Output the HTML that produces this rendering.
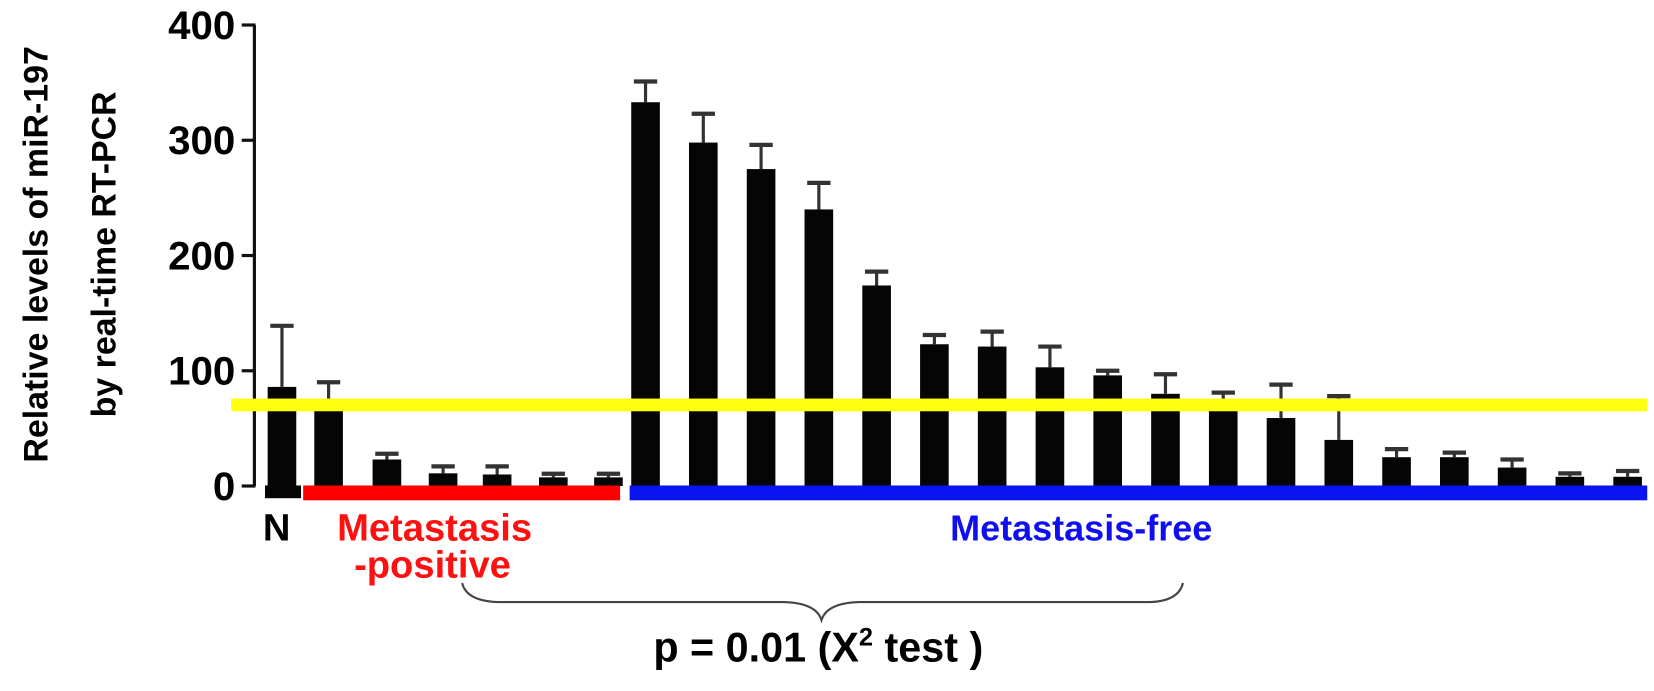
<!DOCTYPE html>
<html><head><meta charset="utf-8"><style>
body{margin:0;background:#fff}
svg{display:block;font-family:"Liberation Sans",Arial,sans-serif;font-weight:bold}
</style></head><body>
<svg id="chart" width="1654" height="691" viewBox="0 0 1654 691" xmlns="http://www.w3.org/2000/svg">
<g transform="scale(1.06)">
<g id="yaxis"></g>
<g id="bars"></g>
<rect x="286" y="458" width="299" height="14" fill="#ff0000"/>
<rect x="594" y="458" width="960" height="14" fill="#0a14f0"/>
<rect x="218" y="376" width="1336" height="12" fill="#ffff10"/>
<text transform="translate(45,240) rotate(-90)" text-anchor="middle" font-size="32">Relative levels of miR-197</text>
<text transform="translate(109,240) rotate(-90)" text-anchor="middle" font-size="32">by real-time RT-PCR</text>
<text x="261" y="510" text-anchor="middle" font-size="36">N</text>
<text x="410" y="510" text-anchor="middle" font-size="36" fill="#ff1010">Metastasis</text>
<text x="408" y="545" text-anchor="middle" font-size="36" fill="#ff1010">-positive</text>
<text x="1020" y="510" text-anchor="middle" font-size="34" fill="#1010ee">Metastasis-free</text>
<path d="M436,550 Q440,567 470,568 L740,568 Q770,569 775,585 Q780,569 810,568 L1085,568 Q1112,567 1116,550" fill="none" stroke="#444" stroke-width="2"/>
<text x="772" y="624" text-anchor="middle" font-size="39">p = 0.01 (X<tspan dy="-15" font-size="24">2</tspan><tspan dy="15"> test )</tspan></text>
</g>
</svg>
<script>
const values=[86,68,23,11,10,7.5,7.5,333,298,275,240,174,123,121,103,96,80,72,59,40,25,25,16,8,8];
const errors=[139,90,28,17,17,10.6,10.6,351,323,296,263,186,131,134,121,100,97,81,88,78,32,29,23,11,13];
const yTicks=[0,100,200,300,400];
const NS="http://www.w3.org/2000/svg";
const y0=458.5,ppu=(458.5-23.6)/400;
function y(v){return y0-v*ppu;}
function xc(i){const left=[266,310,365,418,469,522,574];return i<7?left[i]:609+(i-7)*54.5;}
function mk(t,a){const e=document.createElementNS(NS,t);for(const k in a)e.setAttribute(k,a[k]);return e;}
const ax=document.getElementById('yaxis');
const axl=mk('line',{x1:240,y1:y(400),x2:240,y2:y(0),stroke:'#111','stroke-width':3});


ax.appendChild(axl);
yTicks.forEach(t=>{
 const l=mk('line',{x1:228,y1:y(t),x2:241,y2:y(t),stroke:'#111','stroke-width':3});
 
 
 ax.appendChild(l);
 const tx=mk('text',{x:222,y:y(t)+13,'text-anchor':'end','font-size':38});
 tx.textContent=t;
 
 
 ax.appendChild(tx);
});
const bg=document.getElementById('bars');
values.forEach((v,i)=>{
 const c=xc(i),w=27;
 const el=mk('line',{x1:c,y1:y(errors[i]),x2:c,y2:y(v),stroke:'#333','stroke-width':3});
 
 
 bg.appendChild(el);
 const cap=mk('line',{x1:c-11,y1:y(errors[i]),x2:c+11,y2:y(errors[i]),stroke:'#333','stroke-width':4});
 
 
 bg.appendChild(cap);
 const r=mk('rect',{x:c-w/2,y:y(v),width:w,height:y0-y(v),fill:'#050505'});
 
 
 bg.appendChild(r);
});
const nb=mk('rect',{x:250,y:458,width:34,height:12,fill:'#050505'});


bg.appendChild(nb);
</script>
</body></html>
